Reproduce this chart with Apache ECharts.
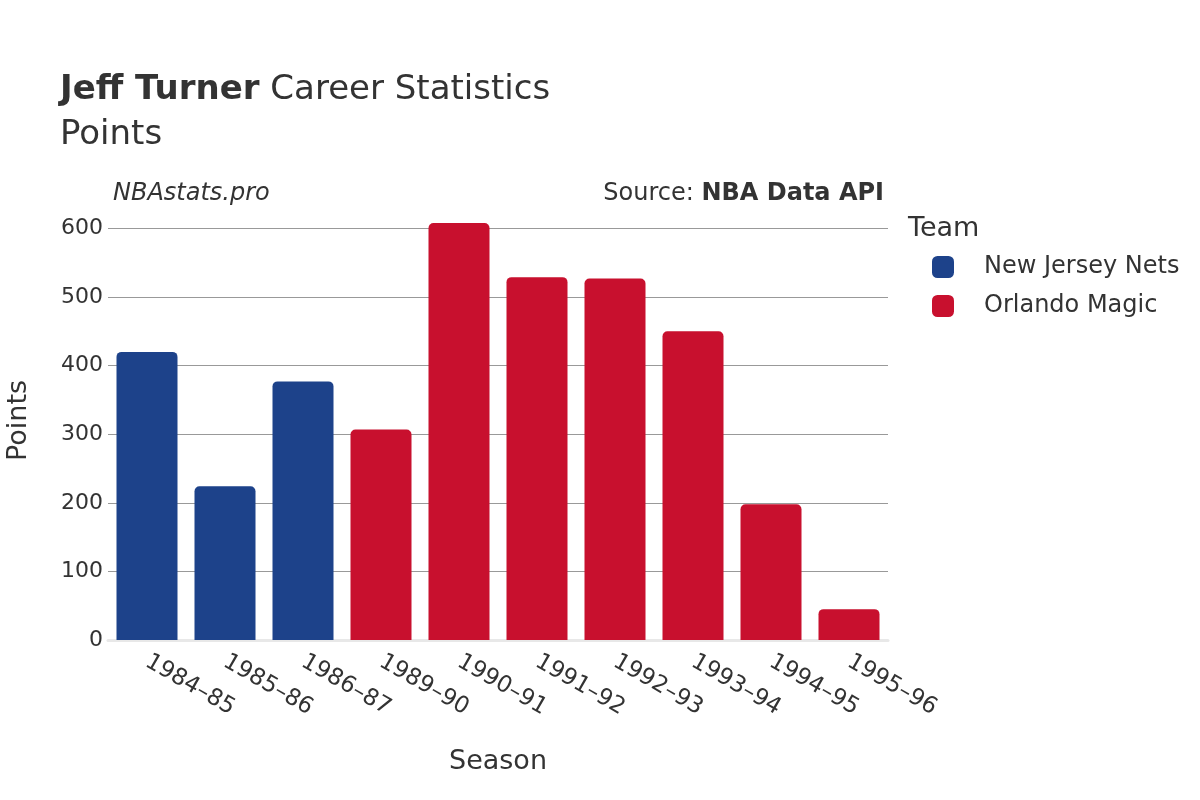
<!DOCTYPE html>
<html>
<head>
<meta charset="utf-8">
<style>html,body{margin:0;padding:0;background:#fff}#c{width:1200px;height:800px}</style>
<script src="https://cdn.jsdelivr.net/npm/echarts@6/dist/echarts.min.js"></script>
</head>
<body>
<div id="c"></div>
<script>
const seasons = ['1984–85','1985–86','1986–87','1989–90','1990–91','1991–92','1992–93','1993–94','1994–95','1995–96'];
const netsPoints = [420, 224, 377, null, null, null, null, null, null, null];
const magicPoints = [null, null, null, 307, 608, 529, 527, 450, 198, 45];
const yTicks = [0, 100, 200, 300, 400, 500, 600];

const FONT = '"DejaVu Sans", sans-serif';
const chart = echarts.init(document.getElementById('c'));
chart.setOption({
  animation: false,
  textStyle: { fontFamily: FONT },
  title: [
    { text: '{b|Jeff Turner} Career Statistics', left: 55, top: 68,
      textStyle: { fontFamily: FONT, fontSize: 34, color: '#333', fontWeight: 'normal',
        rich: { b: { fontFamily: FONT, fontSize: 34, fontWeight: 'bold', color: '#333' } } } },
    { text: 'Points', left: 55, top: 113, textStyle: { fontFamily: FONT, fontSize: 34, color: '#333', fontWeight: 'normal' } },
    { text: 'NBAstats.pro', left: 108, top: 177, textStyle: { fontFamily: FONT, fontSize: 24, color: '#333', fontStyle: 'italic', fontWeight: 'normal' } },
    { text: 'Source: {b|NBA Data API}', right: 311, top: 177,
      textStyle: { fontFamily: FONT, fontSize: 24, color: '#333', fontWeight: 'normal',
        rich: { b: { fontFamily: FONT, fontSize: 24, fontWeight: 'bold', color: '#333' } } } },
    { text: 'Team', left: 903, top: 210, textStyle: { fontFamily: FONT, fontSize: 27, color: '#333', fontWeight: 'normal' } }
  ],
  legend: {
    orient: 'vertical', left: 932, top: 255, itemWidth: 22, itemHeight: 22, itemGap: 15,
    padding: 0,
    icon: 'roundRect',
    textStyle: { fontFamily: FONT, fontSize: 24, color: '#333', padding: [0, 0, 0, 25] },
    data: ['New Jersey Nets', 'Orlando Magic']
  },
  grid: { left: 108, right: 312, top: 201, bottom: 160, containLabel: false, outerBoundsMode: 'none' },
  xAxis: {
    type: 'category', data: seasons,
    name: 'Season', nameLocation: 'middle', nameGap: 108,
    nameTextStyle: { fontFamily: FONT, fontSize: 27, color: '#333' },
    axisLine: { show: true, lineStyle: { color: '#e8e8e8', width: 3 } },
    axisTick: { show: false },
    axisLabel: { rotate: -30, fontFamily: FONT, fontSize: 23, color: '#333', margin: 20 }
  },
  yAxis: {
    type: 'value', min: 0, max: 640, interval: 100,
    name: 'Points', nameLocation: 'middle', nameGap: 76, nameRotate: 90,
    nameTextStyle: { fontFamily: FONT, fontSize: 27, color: '#333' },
    axisLine: { show: false },
    axisTick: { show: false },
    axisLabel: { fontFamily: FONT, fontSize: 22, color: '#333', margin: 5, showMaxLabel: false,
      formatter: v => yTicks.includes(v) ? String(v) : '' },
    splitLine: { showMaxLine: false, lineStyle: { color: '#999', width: 1 } }
  },
  series: [
    { name: 'New Jersey Nets', type: 'bar', stack: 'a', data: netsPoints, barWidth: 61,
      itemStyle: { color: '#1d428a', borderRadius: [5, 5, 0, 0] } },
    { name: 'Orlando Magic', type: 'bar', stack: 'a', data: magicPoints, barWidth: 61,
      itemStyle: { color: '#c8102e', borderRadius: [5, 5, 0, 0] } }
  ]
});
</script>
</body>
</html>
